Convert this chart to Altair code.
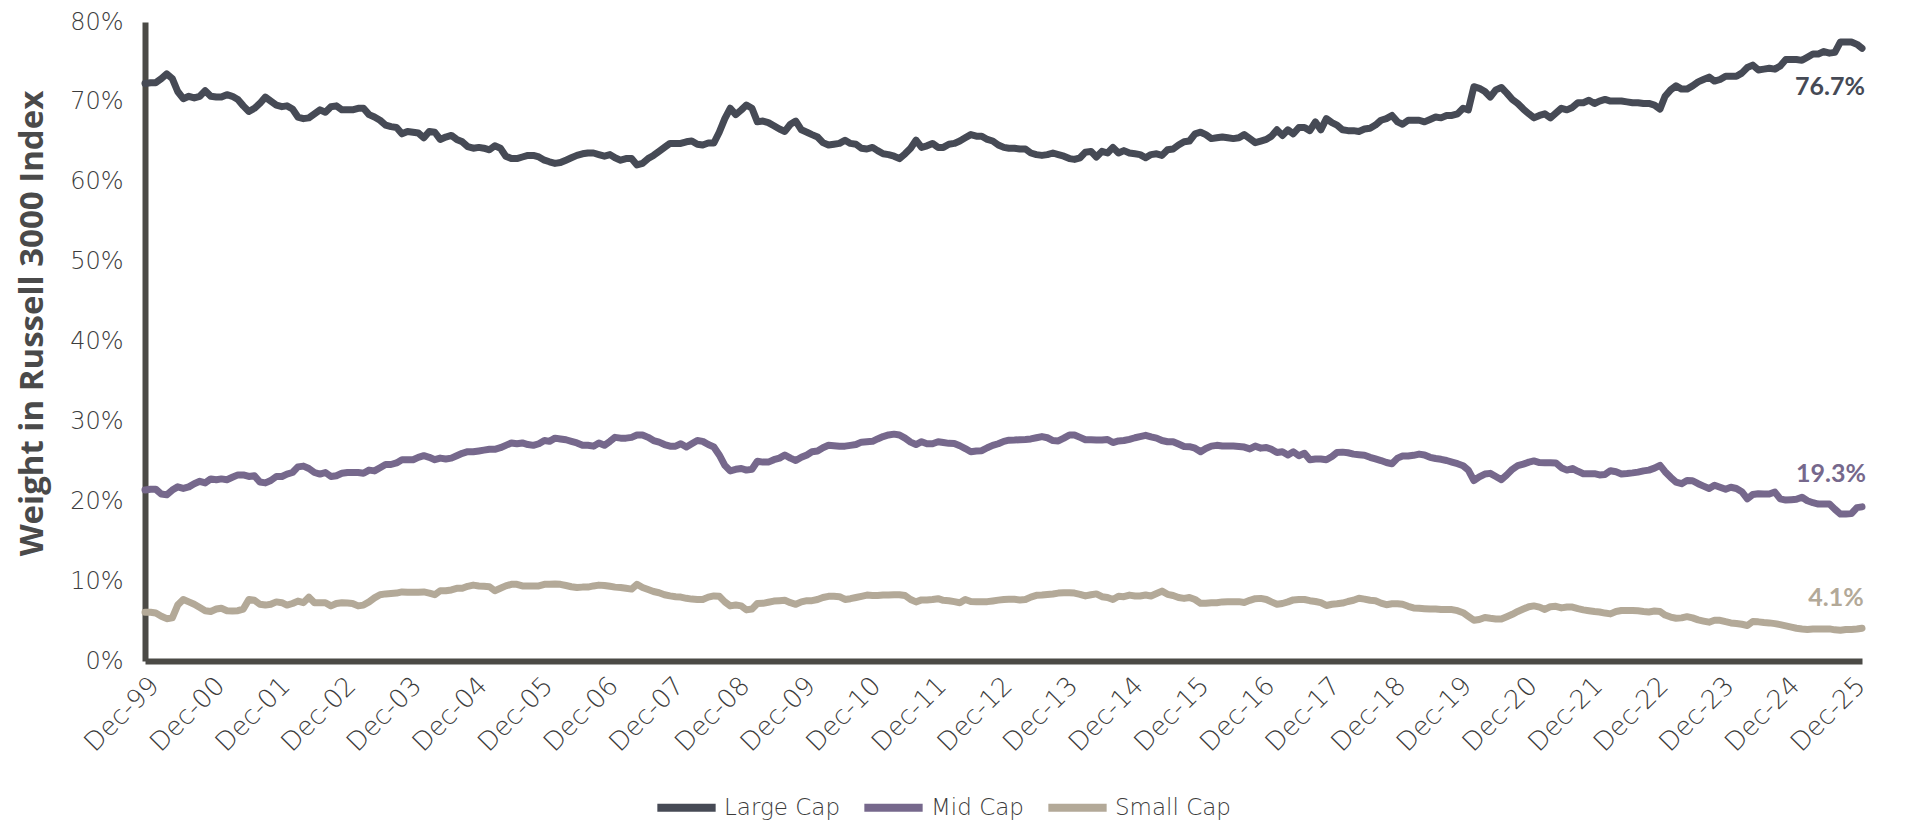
import altair as alt
import pandas as pd

start_date = "1999-12-31"
series_names = ["Large Cap", "Mid Cap", "Small Cap"]
colors = ["#464a55", "#76688c", "#b3a998"]
tick_years = list(range(1999, 2026))
y_ticks = [0, 10, 20, 30, 40, 50, 60, 70, 80]

large = [
    72.3, 72.4, 72.4, 72.9, 73.5, 72.9, 71.3, 70.4, 70.7, 70.5, 70.7, 71.4,
    70.7, 70.6, 70.6, 70.9, 70.7, 70.3, 69.5, 68.8, 69.2, 69.8, 70.6, 70.1,
    69.6, 69.4, 69.5, 69.1, 68.1, 67.9, 68.0, 68.5, 69.0, 68.7, 69.4, 69.5,
    69.0, 69.0, 69.0, 69.2, 69.2, 68.4, 68.1, 67.7, 67.1, 66.9, 66.8, 66.0,
    66.3, 66.2, 66.1, 65.5, 66.3, 66.2, 65.3, 65.6, 65.8, 65.3, 65.0, 64.4,
    64.2, 64.3, 64.2, 64.0, 64.5, 64.2, 63.2, 62.9, 62.9, 63.1, 63.3, 63.3,
    63.1, 62.7, 62.5, 62.3, 62.4, 62.7, 63.0, 63.3, 63.5, 63.6, 63.6, 63.4,
    63.2, 63.4, 63.0, 62.7, 62.9, 62.9, 62.1, 62.3, 62.9, 63.3, 63.8, 64.3,
    64.8, 64.8, 64.8, 65.0, 65.1, 64.7,
    64.6, 64.85, 64.85, 66.2, 67.9, 69.2, 68.4, 69.0, 69.6, 69.2, 67.5, 67.6,
    67.4, 67.0, 66.6, 66.3, 67.2, 67.6, 66.5, 66.2, 65.9, 65.6, 64.9, 64.6,
    64.7, 64.8, 65.2, 64.8, 64.7, 64.2, 64.1, 64.3, 63.9, 63.5, 63.4, 63.2,
    62.9, 63.5, 64.2, 65.2, 64.3, 64.5, 64.8, 64.3, 64.3, 64.7, 64.8, 65.1,
    65.5, 65.9, 65.7, 65.7, 65.3, 65.1, 64.6, 64.3, 64.2, 64.2, 64.1, 64.1,
    63.6, 63.4, 63.3, 63.4, 63.6, 63.4, 63.2, 62.9, 62.8, 63.0, 63.7, 63.8,
    63.1, 63.8, 63.6, 64.3, 63.6, 63.9, 63.6, 63.5, 63.4, 63.0, 63.4, 63.5,
    63.3, 64.0, 64.1, 64.6, 65.0, 65.1, 66.0, 66.2, 65.9, 65.4, 65.5, 65.6,
    65.5, 65.4, 65.5, 65.9, 65.4, 64.9, 65.1, 65.3, 65.7, 66.5, 65.8, 66.5,
    66.0, 66.8, 66.8, 66.4, 67.5, 66.5, 67.9, 67.4, 67.1, 66.5, 66.4, 66.4,
    66.3, 66.6, 66.7, 67.1, 67.7, 67.9, 68.3, 67.5, 67.2, 67.7, 67.7, 67.7,
    67.5, 67.8, 68.1, 68.0, 68.3, 68.3, 68.5, 69.2, 69.0, 71.9, 71.7, 71.3,
    70.6, 71.5, 71.8, 71.1, 70.3, 69.8, 69.1, 68.5, 68.0, 68.3, 68.5, 68.0,
    68.6, 69.2, 69.0, 69.3, 69.9, 69.9, 70.2, 69.8, 70.1, 70.3, 70.1, 70.1,
    70.1, 70.0, 69.9, 69.9, 69.8, 69.8, 69.6, 69.1, 70.7, 71.5, 72.0, 71.6,
    71.6, 72.0, 72.5, 72.8, 73.1, 72.6, 72.8, 73.2, 73.2, 73.2, 73.6, 74.3,
    74.6, 74.0, 74.1, 74.2, 74.1, 74.5, 75.3, 75.3, 75.3, 75.2, 75.6, 76.0,
    76.0, 76.3, 76.1, 76.2, 77.5, 77.5, 77.5, 77.2, 76.7,
]

mid = [
    21.4, 21.5, 21.5, 20.9, 20.8, 21.4, 21.8, 21.6, 21.8, 22.2, 22.5, 22.3,
    22.8, 22.7, 22.8, 22.7, 23.0, 23.3, 23.3, 23.1, 23.2, 22.4, 22.3, 22.6,
    23.1, 23.1, 23.4, 23.6, 24.3, 24.4, 24.1, 23.6, 23.4, 23.6, 23.1, 23.2,
    23.5, 23.6, 23.6, 23.6, 23.5, 23.9, 23.8, 24.2, 24.6, 24.6, 24.8, 25.2,
    25.2, 25.2, 25.5, 25.7, 25.5, 25.2, 25.4, 25.3, 25.4, 25.7, 26.0, 26.2,
    26.2, 26.3, 26.4, 26.5, 26.5, 26.7, 27.0, 27.3, 27.2, 27.3, 27.1, 27.0,
    27.2, 27.6, 27.5, 27.9, 27.8, 27.7, 27.5, 27.3, 27.0, 27.0, 26.9, 27.3,
    27.0, 27.5, 28.0, 27.9, 27.9, 28.0, 28.3, 28.3, 28.0, 27.6, 27.4, 27.1,
    26.9, 26.9, 27.2, 26.8, 27.2, 27.6,
    27.5, 27.1, 26.8, 25.8,
    24.5, 23.8, 24.0, 24.1, 23.9, 24.0, 25.0, 24.9,
    24.9, 25.2, 25.4, 25.8, 25.4, 25.1, 25.5, 25.8, 26.2, 26.3, 26.7, 27.0,
    26.95, 26.9, 26.9, 27.0, 27.1, 27.4, 27.45, 27.5, 27.8, 28.1, 28.3, 28.4,
    28.3, 27.9, 27.4, 27.1, 27.45, 27.2, 27.2, 27.45, 27.35, 27.25, 27.24, 26.95,
    26.6, 26.2, 26.3, 26.33, 26.7, 27.0, 27.2, 27.5, 27.65, 27.66, 27.7, 27.74,
    27.8, 27.95, 28.1, 27.95, 27.6, 27.55, 27.9, 28.3, 28.3, 28.0, 27.7, 27.7,
    27.68, 27.67, 27.74, 27.35, 27.55, 27.6, 27.75, 27.95, 28.1, 28.25, 28.05, 27.9,
    27.6, 27.45, 27.45, 27.16, 26.85, 26.83, 26.64, 26.2, 26.6, 26.9, 27.0, 26.91,
    26.91, 26.91, 26.85, 26.78, 26.55, 26.9, 26.65, 26.74, 26.5, 26.1, 26.2, 25.8,
    26.2, 25.7, 26.0, 25.2, 25.3, 25.3, 25.2, 25.6, 26.1, 26.15, 26.07, 25.9,
    25.83, 25.77, 25.5, 25.3, 25.1, 24.85, 24.7, 25.4, 25.66, 25.66, 25.75, 25.9,
    25.8, 25.5, 25.35, 25.25, 25.1, 24.9, 24.7, 24.45, 23.9, 22.6, 23.05, 23.4,
    23.49, 23.1, 22.7, 23.3, 24.0, 24.45, 24.65, 24.9, 25.05, 24.85, 24.82, 24.82,
    24.8, 24.2, 23.9, 24.1, 23.75, 23.45, 23.45, 23.45, 23.3, 23.35, 23.82, 23.7,
    23.42, 23.47, 23.55, 23.65, 23.8, 23.9, 24.15, 24.5, 23.7, 23.0, 22.4, 22.2,
    22.6, 22.57, 22.2, 21.9, 21.6, 22.0, 21.75, 21.5, 21.75, 21.6, 21.2, 20.3,
    20.85, 20.95, 20.9, 20.9, 21.15, 20.3, 20.15, 20.2, 20.25, 20.5, 20.06, 19.82,
    19.65, 19.65, 19.65, 19.0, 18.4, 18.4, 18.45, 19.2, 19.3,
]

small = [
    6.1, 6.1, 6.0, 5.6, 5.3, 5.4, 7.0, 7.7, 7.4, 7.1, 6.7, 6.3,
    6.2, 6.5, 6.6, 6.3, 6.25, 6.3, 6.5, 7.7, 7.6, 7.1, 7.0, 7.1,
    7.4, 7.3, 7.0, 7.2, 7.5, 7.3, 8.0, 7.3, 7.3, 7.3, 6.9, 7.2,
    7.3, 7.25, 7.2, 6.9, 7.0, 7.4, 7.9, 8.3, 8.4, 8.45, 8.5, 8.65,
    8.6, 8.6, 8.6, 8.65, 8.5, 8.3, 8.8, 8.8, 8.9, 9.1, 9.1, 9.35,
    9.5, 9.4, 9.35, 9.3, 8.8, 9.1, 9.4, 9.6, 9.6, 9.4, 9.4, 9.4,
    9.4, 9.6, 9.6, 9.65, 9.6, 9.45, 9.3, 9.2, 9.25, 9.25, 9.4, 9.5,
    9.45, 9.35, 9.25, 9.2, 9.1, 9.0, 9.6, 9.2, 8.95, 8.7, 8.55, 8.3,
    8.15, 8.05, 8.0, 7.85, 7.75, 7.7,
    7.7, 8.0, 8.15, 8.1,
    7.4, 6.9, 7.0, 6.9, 6.4, 6.5, 7.2, 7.22,
    7.35, 7.5, 7.55, 7.6, 7.3, 7.1, 7.4, 7.55, 7.55, 7.7, 7.95, 8.1,
    8.1, 8.05, 7.7, 7.8, 7.95, 8.1, 8.25, 8.2, 8.2, 8.26, 8.26, 8.3,
    8.3, 8.2, 7.7, 7.4, 7.65, 7.65, 7.7, 7.8, 7.6, 7.55, 7.43, 7.3,
    7.7, 7.45, 7.43, 7.43, 7.43, 7.52, 7.62, 7.7, 7.72, 7.72, 7.65, 7.7,
    8.0, 8.22, 8.26, 8.33, 8.39, 8.5, 8.55, 8.55, 8.5, 8.35, 8.15, 8.3,
    8.4, 8.05, 7.95, 7.7, 8.1, 8.05, 8.25, 8.14, 8.14, 8.26, 8.14, 8.45,
    8.75, 8.35, 8.2, 7.95, 7.84, 7.95, 7.7, 7.22, 7.22, 7.3, 7.3, 7.4,
    7.43, 7.43, 7.43, 7.33, 7.6, 7.8, 7.84, 7.7, 7.4, 7.1, 7.2, 7.4,
    7.65, 7.7, 7.7, 7.55, 7.45, 7.3, 6.95, 7.1, 7.16, 7.25, 7.45, 7.6,
    7.85, 7.75, 7.6, 7.55, 7.25, 7.05, 7.16, 7.16, 7.1, 6.85, 6.65, 6.61,
    6.55, 6.5, 6.5, 6.44, 6.44, 6.44, 6.3, 6.05, 5.6, 5.1, 5.2, 5.45,
    5.35, 5.27, 5.27, 5.55, 5.85, 6.2, 6.5, 6.8, 6.9, 6.75, 6.45, 6.8,
    6.85, 6.65, 6.75, 6.75, 6.55, 6.4, 6.3, 6.2, 6.13, 6.0, 5.9, 6.2,
    6.32, 6.32, 6.32, 6.28, 6.2, 6.14, 6.25, 6.2, 5.75, 5.5, 5.35, 5.4,
    5.55, 5.4, 5.15, 5.0, 4.86, 5.1, 5.1, 4.92, 4.77, 4.7, 4.6, 4.45,
    4.95, 4.9, 4.82, 4.77, 4.68, 4.55, 4.4, 4.25, 4.1, 4.0, 3.95, 4.0,
    4.02, 4.02, 4.02, 3.9, 3.85, 3.94, 3.94, 4.0, 4.1,
]

all_series = [large, mid, small]
n = min(len(s) for s in all_series)
dates = pd.date_range(start_date, periods=n, freq="ME")

rows = []
for name, vals in zip(series_names, all_series):
    for d, v in zip(dates, vals[:n]):
        rows.append({"date": d, "series": name, "value": v})
df = pd.DataFrame(rows)

tick_values = [alt.DateTime(year=y, month=12, date=31) for y in tick_years]

tick_font = "DejaVu Sans"
tick_color = "#3c3c3c"

x_axis = alt.Axis(
    values=tick_values,
    format="%b-%y",
    labelAngle=-45,
    labelAlign="right",
    labelBaseline="top",
    labelFont=tick_font,
    labelFontSize=26,
    labelFontWeight=300,
    labelColor=tick_color,
    labelPadding=11,
    labelOverlap=False,
    labelFlush=False,
    title=None,
)
y_axis = alt.Axis(
    values=y_ticks,
    labelExpr="datum.value + '%'",
    labelFont=tick_font,
    labelFontSize=24,
    labelFontWeight=300,
    labelColor=tick_color,
    labelPadding=22,
    title="Weight in Russell 3000 Index",
    titleFont="Open Sans",
    titleFontSize=33,
    titleFontWeight="bold",
    titleColor="#4a4a4a",
    titleX=-113,
    titleY=301,
    titleAlign="center",
    titleBaseline="middle",
    titleAngle=270,
)

lines = alt.Chart(df).mark_line(strokeWidth=7, strokeJoin="round", strokeCap="round").encode(
    x=alt.X("date:T", scale=alt.Scale(nice=False), axis=x_axis),
    y=alt.Y("value:Q", scale=alt.Scale(domain=[0, 80], nice=False), axis=y_axis),
    color=alt.Color(
        "series:N",
        scale=alt.Scale(domain=series_names, range=colors),
        legend=alt.Legend(
            title=None,
            orient="none",
            legendX=508,
            legendY=752,
            direction="horizontal",
            symbolType="stroke",
            symbolStrokeWidth=8,
            symbolSize=3400,
            labelFont=tick_font,
            labelFontSize=23,
            labelFontWeight=300,
            labelColor=tick_color,
            labelOffset=4,
            columnPadding=8,
            padding=0,
        ),
    ),
)

offsets = [(-32, 39), (-31, -33), (-26, -30)]
layers = [lines]
for name, vals, col, (dx, dy) in zip(series_names, all_series, colors, offsets):
    last_val = vals[n - 1]
    end_df = pd.DataFrame({"date": [dates[-1]], "value": [last_val], "label": [f"{last_val:.1f}%"]})
    layers.append(
        alt.Chart(end_df).mark_text(
            font="Lato", fontSize=25, fontWeight="bold", color=col, dx=dx, dy=dy,
            align="center", baseline="middle"
        ).encode(
            x=alt.X("date:T", axis=x_axis),
            y=alt.Y("value:Q", axis=y_axis),
            text="label:N",
        )
    )

chart = alt.layer(*layers).properties(
    width=1717,
    height=639,
    autosize=alt.AutoSizeParams(type="none"),
    padding={"left": 137, "top": 14, "right": 47, "bottom": 162},
).configure_view(stroke=None).configure_axis(
    domainColor="#4b4a46",
    domainWidth=6,
    ticks=False,
    grid=False,
)

chart.save("out.html", embed_options={"renderer": "svg", "actions": False})
